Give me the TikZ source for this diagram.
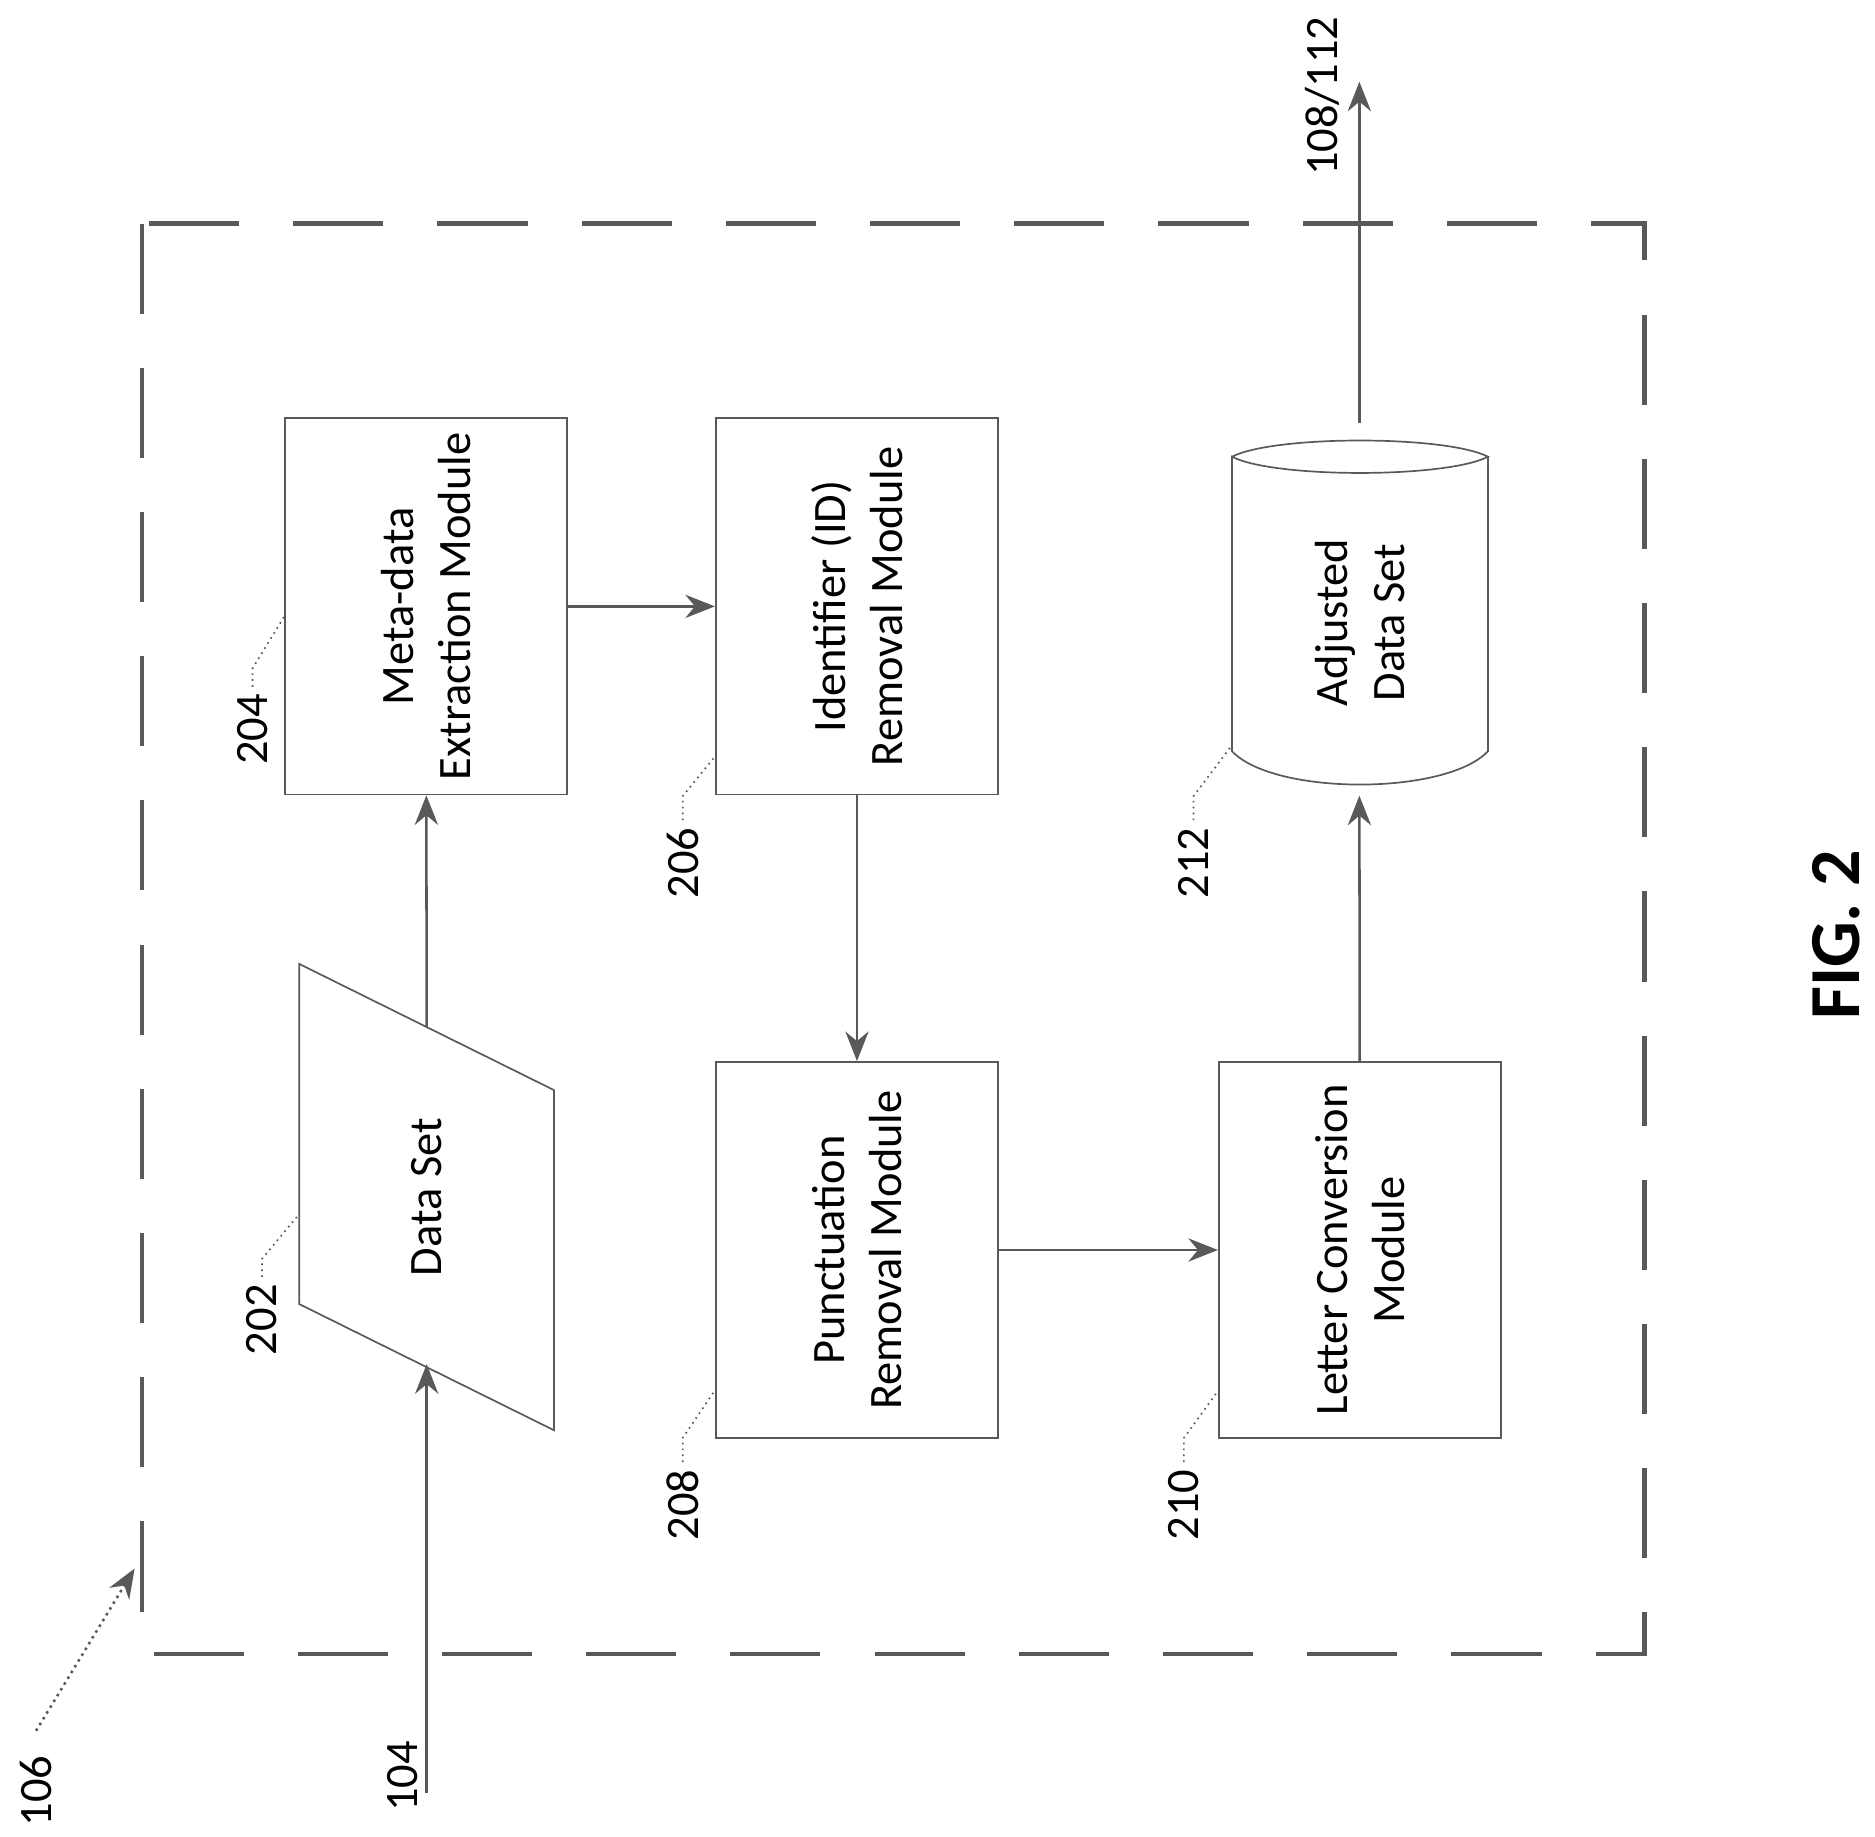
\documentclass[tikz,border=0pt]{standalone}
\usepackage{fontspec}
\setmainfont{Carlito}
\usetikzlibrary{arrows.meta}
\definecolor{linegray}{rgb}{0.35,0.35,0.35}

\begin{document}
\begin{tikzpicture}[x=0.02cm,y=-0.02cm]

		\tikzset{module/.style = {draw=linegray, line width=0.8pt, rotate=90, minimum width=6.26cm, minimum height=4.7cm, align=center, font=\fontsize{22}{27}\selectfont}}
		\tikzset{edge/.style = {draw=linegray, line width=1.2pt, -{Stealth[length=14pt,width=11pt]}}}
		\tikzset{lead/.style = {draw=linegray, line width=0.8pt, dotted}}
		\tikzset{ref/.style = {rotate=90, font=\fontsize{22}{27}\selectfont}}
		\useasboundingbox (0,0) rectangle (1560,1528);
		% frame 106
		\draw[linegray, line width=2.2pt, dash pattern=on 1.5cm off 0.9cm] (118,186) rectangle (1368,1376);
		% data set 202
		\draw[linegray, line width=0.8pt] (249,802) -- (461,907) -- (461,1190) -- (249,1085) -- cycle;
		\node[ref, font=\fontsize{22}{27}\selectfont] (d202) at (355,996) {Data Set};
		\coordinate (in202) at (355,1135);
		\coordinate (out202) at (355,855);
		% modules
		\node[module] (m204) at (354.5,504.5) {Meta-data\\Extraction Module};
		\node[module] (m206) at (713,504.5) {Identifier (ID)\\Removal Module};
		\node[module] (m208) at (713,1040) {Punctuation\\Removal Module};
		\node[module] (m210) at (1131.5,1040) {Letter Conversion\\Module};
		% adjusted data set 212
		\draw[linegray, line width=0.8pt] (1025,380) .. controls (1060,362) and (1203,362) .. (1238,380)
			.. controls (1203,398) and (1060,398) .. (1025,380) -- (1025,625)
			.. controls (1060,662) and (1203,662) .. (1238,625) -- (1238,380);
		\node[ref] (d212) at (1131.5,518) {\parbox{5cm}{\centering Adjusted\\Data Set}};
		\coordinate (in212) at (1131,662);
		\coordinate (out212) at (1131,352);
		% free ends
		\coordinate (src104) at (355,1492);
		\coordinate (dst108) at (1131,68);
		\coordinate (src106) at (30,1440);
		\coordinate (dst106) at (112,1305);
		% edges
		\draw[edge] (src104) -- (in202);
		\draw[edge] (out202) -- (m204);
		\draw[edge] (m204) -- (m206);
		\draw[edge] (m206) -- (m208);
		\draw[edge] (m208) -- (m210);
		\draw[edge] (m210) -- (in212);
		\draw[edge] (out212) -- (dst108);
		\draw[edge, dotted] (src106) -- (dst106);
		% reference numerals
		\node[ref] (n104) at (335,1478) {104};
		\node[ref] (n106) at (30,1490) {106};
		\node[ref] (n108) at (1100,80) {108/112};
		\node[ref] (n202) at (218,1098) {202};
		\node[ref] (n204) at (210,607) {204};
		\node[ref] (n206) at (568,718) {206};
		\node[ref] (n208) at (568,1252) {208};
		\node[ref] (n210) at (985,1252) {210};
		\node[ref] (n212) at (993,718) {212};
		\node[rotate=90, font=\fontsize{34}{40}\selectfont\bfseries] (fig) at (1528,778) {FIG. 2};
		% leaders
		\draw[lead] (n202.east) -- ++(0,-15) -- (249,1010);
		\draw[lead] (n204.east) -- ++(0,-15) -- (237,512);
		\draw[lead] (n206.east) -- ++(0,-20) -- (596,628);
		\draw[lead] (n208.east) -- ++(0,-20) -- (596,1155);
		\draw[lead] (n210.east) -- ++(0,-20) -- (1015,1155);
		\draw[lead] (n212.east) -- ++(0,-20) -- (1025,620);

\end{tikzpicture}
\end{document}
